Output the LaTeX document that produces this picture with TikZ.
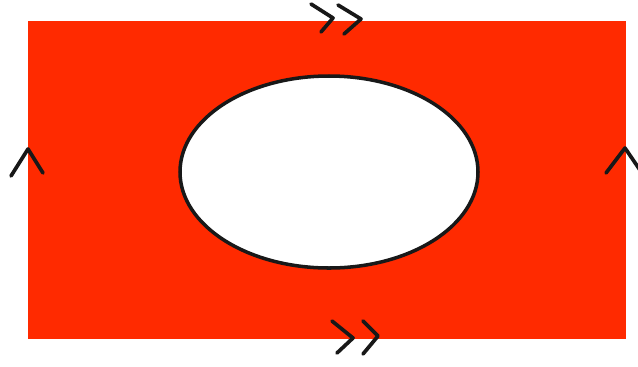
\documentclass[tikz,border=0pt]{standalone}
\usepackage{tikz}
\usetikzlibrary{shapes.geometric}
\usepackage{xcolor}
\definecolor{SheetRed}{HTML}{FF2A00}
\definecolor{EdgeInk}{HTML}{181818}

\begin{document}
\begin{tikzpicture}[x=0.02cm, y=-0.02cm,
    sheet/.style={fill=SheetRed, draw=none},
    hole/.style={ellipse, draw=EdgeInk, fill=white, line width=2pt, minimum width=298*0.02cm, minimum height=192*0.02cm, inner sep=0pt},
    chev/.style={draw=EdgeInk, line width=2.1pt, line cap=round, line join=round}
  ]
    \useasboundingbox (0,0) rectangle (638,366);
    \fill[sheet] (28,21) rectangle (626,339);
    \node[hole] (hole) at (329,172) {};

    % glued edges
    \draw[chev] (311,4) -- (333,18) -- (321,32);
    \draw[chev] (338,5) -- (361,19) -- (344,34);
    \draw[chev] (332,321) -- (353,338) -- (337,353);
    \draw[chev] (363,321) -- (378,336) -- (363,354);
    \draw[chev] (11,176) -- (28,149) -- (43,173);
    \draw[chev] (606,173) -- (625,148) -- (642,173);
  \end{tikzpicture}
\end{document}
